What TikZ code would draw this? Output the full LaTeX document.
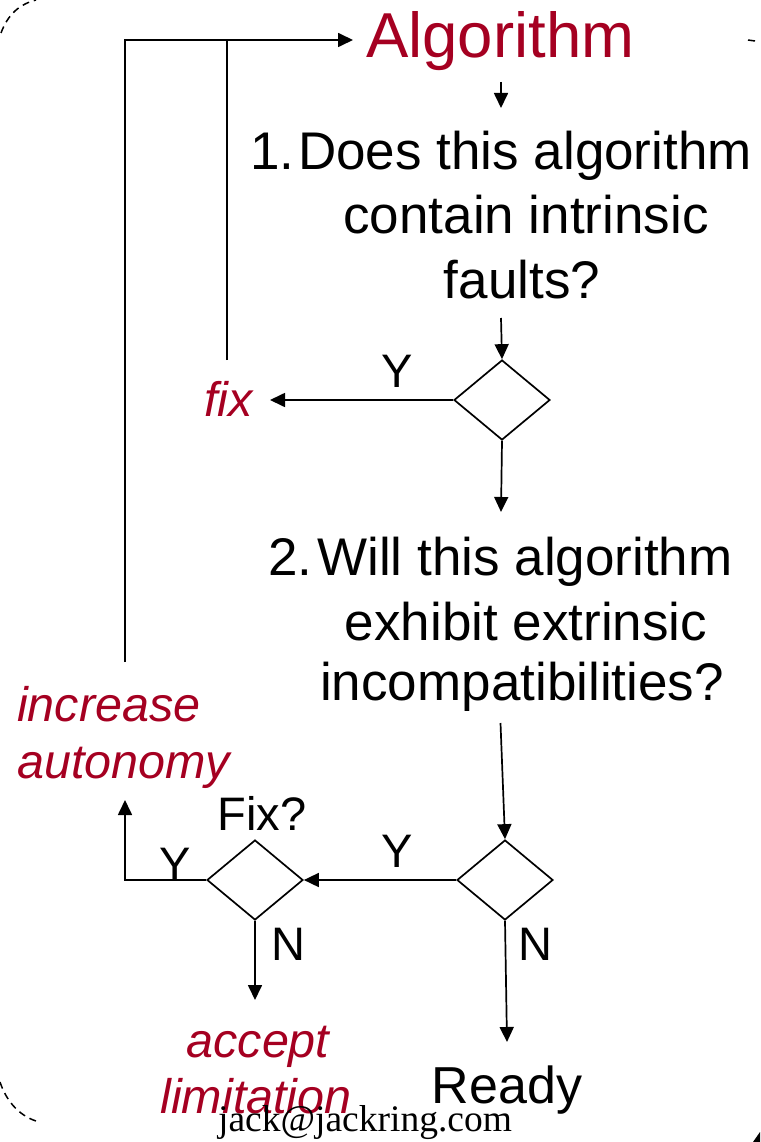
\documentclass[tikz,border=0pt]{standalone}
\usepackage{fontspec}
\setmainfont{Liberation Sans}
\newfontfamily\jackserif{Liberation Serif}
\usetikzlibrary{arrows.meta,shapes.geometric}
\definecolor{darkred}{RGB}{165,0,33}
\tikzset{
  conn/.style={line width=1.7pt},
  arr/.style={conn,-{Triangle[length=15pt,width=14pt]}},
  diam/.style={diamond,draw,line width=1.7pt,minimum width=96pt,minimum height=80pt,inner sep=0pt},
  qtext/.style={inner sep=0pt,font=\fontsize{53}{63}\selectfont},
  lbl/.style={inner sep=0pt,font=\fontsize{47}{56}\selectfont},
  redit/.style={inner sep=0pt,text=darkred,font=\fontsize{48.5}{56}\selectfont\itshape},
  cornerdash/.style={line width=1.5pt,dash pattern=on 7pt off 5pt},
}
\begin{document}
\begin{tikzpicture}[x=1pt,y=-1pt]
\useasboundingbox (0,0) rectangle (760,1142);
% corner fragments
\draw[cornerdash] (1,33) .. controls (8,14) and (20,4) .. (36,0);
\draw[cornerdash] (0,1082) .. controls (6,1100) and (18,1115) .. (36,1121);
\draw[line width=1.5pt] (748,40) -- (755,41);
\fill (753,1142) -- (760,1132) -- (760,1142) -- cycle;

% title
\node[inner sep=0pt,anchor=base west,text=darkred,font=\fontsize{63.5}{70}\selectfont] (alg) at (366,58) {Algorithm};

% question 1
\node[qtext,anchor=base west] (n1) at (250,170) {1.};
\node[qtext,anchor=base] (q1a) at (525,170) {Does this algorithm};
\node[qtext,anchor=base] (q1b) at (526,233) {contain intrinsic};
\node[qtext,anchor=base] (q1c) at (522,298) {faults?};

% question 2
\node[qtext,anchor=base west] (n2) at (268,575) {2.};
\node[qtext,anchor=base] (q2a) at (525,575) {Will this algorithm};
\node[qtext,anchor=base] (q2b) at (526,640) {exhibit extrinsic};
\node[qtext,anchor=base] (q2c) at (522,700) {incompatibilities?};

% diamonds
\node[diam] (d1) at (502,400) {};
\node[diam] (d2) at (505,880) {};
\node[diam] (d3) at (255,880) {};

% labels
\node[redit,anchor=base west] (fix) at (204,416) {fix};
\node[redit,anchor=base west] (incr) at (17,721) {increase};
\node[redit,anchor=base west] (auto) at (17,778) {autonomy};
\node[redit,anchor=base] (acc) at (258,1057) {accept};
\node[redit,anchor=base] (lim) at (256,1113) {limitation};
\node[lbl,anchor=base] (fixq) at (262,830) {Fix?};
\node[lbl,anchor=base] (y1) at (397,387) {Y};
\node[lbl,anchor=base] (y2) at (397,867) {Y};
\node[lbl,anchor=base] (y3) at (175,880) {Y};
\node[lbl,anchor=base] (nl) at (288,960) {N};
\node[lbl,anchor=base] (nr) at (535,960) {N};
\node[inner sep=0pt,anchor=base,font=\fontsize{52}{60}\selectfont] (ready) at (507,1103) {Ready};
\node[inner sep=0pt,anchor=base,font=\jackserif\fontsize{37.5}{40}\selectfont] (mail) at (365,1131) {jack@jackring.com};

% coordinates for free ends
\coordinate (algin) at (353,40);
\coordinate (loopbot) at (125,662);
\coordinate (fixtop) at (227,360);
\coordinate (fixjoin) at (227,40);
\coordinate (a1s) at (501,82);
\coordinate (a1e) at (501,108);
\coordinate (a2s) at (501,318);
\coordinate (a3e) at (501,512);
\coordinate (a4s) at (500.5,723);
\coordinate (fixin) at (270,400);
\coordinate (autin) at (125,800);
\coordinate (accin) at (255,1000);
\coordinate (readyin) at (507,1042);

% connectors
\draw[arr] (loopbot) |- (algin);
\draw[conn] (fixtop) -- (fixjoin);
\draw[arr] (a1s) -- (a1e);
\draw[arr] (a2s) -- (d1.north);
\draw[arr] (d1.west) -- (fixin);
\draw[arr] (d1.south) -- (a3e);
\draw[arr] (a4s) -- (d2.north);
\draw[arr] (d2.west) -- (d3.east);
\draw[arr] (d3.west) -| (autin);
\draw[arr] (d3.south) -- (accin);
\draw[arr] (d2.south) -- (readyin);
\end{tikzpicture}
\end{document}
